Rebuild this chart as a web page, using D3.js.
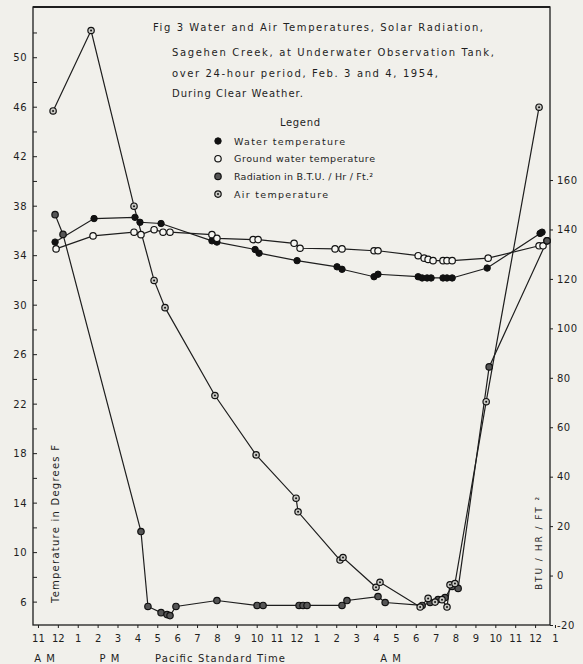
<!DOCTYPE html>
<html>
<head>
<meta charset="utf-8">
<script src="https://cdn.jsdelivr.net/npm/d3@7"></script>
<style>
  body { margin: 0; background: #f1f0eb; }
  svg { display: block; }
  text { font-family: "DejaVu Sans", sans-serif; fill: #1e1e1e; }
</style>
</head>
<body>
<script>
// hours counted from noon, Feb 3 (-1 = 11 AM, 24 = noon Feb 4)
var waterTemp = [
	[-0.14, 35.1], [1.82, 37.0], [3.88, 37.1], [4.13, 36.7], [5.19, 36.6],
	[7.75, 35.2], [8.0, 35.1], [9.92, 34.5], [10.12, 34.2], [12.03, 33.6],
	[14.04, 33.1], [14.29, 32.9], [15.9, 32.3], [16.1, 32.5], [18.12, 32.3],
	[18.32, 32.2], [18.57, 32.2], [18.77, 32.2], [19.37, 32.2], [19.57, 32.2],
	[19.83, 32.2], [21.59, 33.0], [24.25, 35.8], [24.35, 35.9]
];

var groundTemp = [
	[-0.09, 34.55], [1.77, 35.6], [3.83, 35.9], [4.18, 35.7], [4.84, 36.1],
	[5.29, 35.9], [5.64, 35.9], [7.75, 35.7], [8.0, 35.4], [9.82, 35.3],
	[10.07, 35.3], [11.88, 35.0], [12.18, 34.6], [13.94, 34.55], [14.29, 34.55],
	[15.9, 34.4], [16.1, 34.4], [18.12, 34.0], [18.42, 33.8], [18.62, 33.7],
	[18.87, 33.6], [19.37, 33.6], [19.57, 33.6], [19.83, 33.6], [21.64, 33.8],
	[24.2, 34.8], [24.4, 34.8], [24.6, 35.2]
];

// BTU / Hr / Ft2, right axis
var radiation = [
	[-0.14, 146], [0.26, 138], [4.18, 17.8], [4.53, -12.5], [5.19, -15],
	[5.49, -15.8], [5.64, -16.2], [5.94, -12.5], [8.0, -10.1], [10.02, -12.1],
	[10.32, -12.1], [12.13, -12.1], [12.33, -12.1], [12.53, -12.1], [14.29, -12.1],
	[14.54, -10.1], [16.1, -8.5], [16.46, -10.9], [18.32, -12.1], [18.72, -10.9],
	[19.12, -9.7], [19.47, -8.9], [19.83, -4.4], [20.13, -5.2], [21.69, 84.4],
	[24.6, 135.4]
];

var airTemp = [
	[-0.24, 45.7], [1.67, 52.2], [3.83, 38.0], [4.84, 32.0], [5.39, 29.8],
	[7.9, 22.7], [9.97, 17.9], [11.98, 14.4], [12.08, 13.3], [14.19, 9.4],
	[14.34, 9.6], [16.0, 7.2], [16.2, 7.6], [18.22, 5.6], [18.62, 6.3],
	[18.97, 6.0], [19.32, 6.2], [19.57, 5.6], [19.72, 7.4], [19.97, 7.5],
	[21.54, 22.2], [24.2, 46.0]
];

var xTickLabels = ["11", "12", "1", "2", "3", "4", "5", "6", "7", "8", "9", "10", "11",
	"12", "1", "2", "3", "4", "5", "6", "7", "8", "9", "10", "11", "12", "1"];
var leftTicks = [6, 10, 14, 18, 22, 26, 30, 34, 38, 42, 46, 50];
var rightTicks = [-20, 0, 20, 40, 60, 80, 100, 120, 140, 160];

var titleLines = [
	"Fig 3  Water and Air Temperatures, Solar Radiation,",
	"Sagehen Creek, at Underwater Observation Tank,",
	"over 24-hour period, Feb. 3 and 4, 1954,",
	"During Clear Weather."
];
var legendLabels = ["Water temperature", "Ground water temperature",
	"Radiation in B.T.U. / Hr / Ft.\u00b2", "Air temperature"];

var W = 583, H = 664;
var box = {left: 33, right: 550, top: 7, bottom: 625};

var svg = d3.select("body").append("svg")
	.attr("width", W).attr("height", H);

var x = d3.scaleLinear().domain([-1.25, 24.75]).range([box.left, box.right]);
var yT = d3.scaleLinear().domain([4.15, 54.1]).range([box.bottom, box.top]);
var yR = d3.scaleLinear().domain([-20, 230]).range([box.bottom, box.top]);

// frame
svg.append("rect")
	.attr("x", box.left).attr("y", box.top)
	.attr("width", box.right - box.left).attr("height", box.bottom - box.top)
	.attr("fill", "none").attr("stroke", "#1e1e1e").attr("stroke-width", 1.3);
svg.append("line")
	.attr("x1", box.left).attr("x2", box.right)
	.attr("y1", box.top).attr("y2", box.top)
	.attr("stroke", "#1e1e1e").attr("stroke-width", 2);

// left axis
var leftAxis = d3.axisLeft(yT).tickValues(leftTicks).tickSize(0).tickPadding(6);
var gl = svg.append("g").attr("transform", "translate(" + box.left + ",0)").call(leftAxis);
gl.select(".domain").remove();
gl.selectAll("text").style("font-size", "10px").attr("letter-spacing", "0.5");
svg.append("g").selectAll("line")
	.data(d3.range(6, 54, 2))
	.join("line")
	.attr("x1", box.left).attr("x2", box.left + 4)
	.attr("y1", d => yT(d)).attr("y2", d => yT(d))
	.attr("stroke", "#1e1e1e").attr("stroke-width", 1);

// right axis
var rightAxis = d3.axisRight(yR).tickValues(rightTicks).tickSize(3).tickPadding(4)
	.tickFormat(d => d);
var gr = svg.append("g").attr("transform", "translate(" + box.right + ",0)").call(rightAxis);
gr.select(".domain").remove();
gr.selectAll("text").style("font-size", "10px").attr("letter-spacing", "0.5");
gr.selectAll("line").attr("stroke", "#1e1e1e");

// bottom axis
var bottomAxis = d3.axisBottom(x).tickValues(d3.range(-1, 26))
	.tickFormat((d, i) => xTickLabels[i]).tickSize(3).tickPadding(7);
var gb = svg.append("g").attr("transform", "translate(0," + box.bottom + ")").call(bottomAxis);
gb.select(".domain").remove();
gb.selectAll("text").style("font-size", "10px");
gb.selectAll("line").attr("stroke", "#1e1e1e");

svg.append("text").attr("x", 45).attr("y", 662).attr("text-anchor", "middle")
	.style("font-size", "10px").attr("letter-spacing", "1").text("A M");
svg.append("text").attr("x", 110).attr("y", 662).attr("text-anchor", "middle")
	.style("font-size", "10px").attr("letter-spacing", "1").text("P M");
svg.append("text").attr("x", 155).attr("y", 662)
	.attr("textLength", 130).attr("lengthAdjust", "spacing")
	.style("font-size", "10px").text("Pacific Standard Time");
svg.append("text").attr("x", 391).attr("y", 662).attr("text-anchor", "middle")
	.style("font-size", "10px").attr("letter-spacing", "1").text("A M");

// axis titles
svg.append("text")
	.attr("transform", "translate(59,603) rotate(-90)")
	.attr("textLength", 158).attr("lengthAdjust", "spacing")
	.style("font-size", "10px").text("Temperature in Degrees F");
svg.append("text")
	.attr("transform", "translate(542,590) rotate(-90)")
	.attr("textLength", 93).attr("lengthAdjust", "spacing")
	.style("font-size", "9px").text("BTU / HR / FT \u00b2");

// title block
var titlePos = [[153, 31, 330], [172, 56, 322], [172, 77, 266], [172, 97, 131]];
svg.append("g").selectAll("text")
	.data(titleLines)
	.join("text")
	.attr("x", (d, i) => titlePos[i][0])
	.attr("y", (d, i) => titlePos[i][1])
	.attr("textLength", (d, i) => titlePos[i][2])
	.attr("lengthAdjust", "spacing")
	.style("font-size", "10px")
	.text(d => d);

// series
var lineT = d3.line().x(d => x(d[0])).y(d => yT(d[1]));
var lineR = d3.line().x(d => x(d[0])).y(d => yR(d[1]));

var series = [
	{data: waterTemp, line: lineT, y: yT, kind: "water"},
	{data: groundTemp, line: lineT, y: yT, kind: "ground"},
	{data: radiation, line: lineR, y: yR, kind: "rad"},
	{data: airTemp, line: lineT, y: yT, kind: "air"}
];

series.forEach(function(s) {
	svg.append("path")
		.attr("d", s.line(s.data))
		.attr("fill", "none")
		.attr("stroke", "#1e1e1e")
		.attr("stroke-width", 1.2);
});

function marker(g, kind, cx, cy) {
	var r = 3.2;
	if (kind == "water") {
		g.append("circle").attr("cx", cx).attr("cy", cy).attr("r", r)
			.attr("fill", "#111").attr("stroke", "#111");
	} else if (kind == "ground") {
		g.append("circle").attr("cx", cx).attr("cy", cy).attr("r", r)
			.attr("fill", "#f6f6f2").attr("stroke", "#111").attr("stroke-width", 1.2);
	} else if (kind == "rad") {
		g.append("circle").attr("cx", cx).attr("cy", cy).attr("r", r)
			.attr("fill", "#555").attr("stroke", "#111").attr("stroke-width", 1.2);
	} else {
		g.append("circle").attr("cx", cx).attr("cy", cy).attr("r", r)
			.attr("fill", "#c9c9c4").attr("stroke", "#111").attr("stroke-width", 1.2);
		g.append("circle").attr("cx", cx).attr("cy", cy).attr("r", 1)
			.attr("fill", "#111");
	}
}

series.forEach(function(s) {
	var g = svg.append("g");
	s.data.forEach(function(d) {
		marker(g, s.kind, x(d[0]), s.y(d[1]));
	});
});

// legend
svg.append("text").attr("x", 280).attr("y", 126)
	.attr("textLength", 40).attr("lengthAdjust", "spacing")
	.style("font-size", "10px").text("Legend");
var legendKinds = ["water", "ground", "rad", "air"];
var legendEnds = [345, 375, 373, 328];
var lg = svg.append("g");
legendLabels.forEach(function(t, i) {
	var cy = 141 + i * 17.7;
	marker(lg, legendKinds[i], 218, cy);
	lg.append("text").attr("x", 234).attr("y", cy + 3.5)
		.attr("textLength", legendEnds[i] - 234).attr("lengthAdjust", "spacing")
		.style("font-size", "9.5px").text(t);
});
</script>
</body>
</html>
